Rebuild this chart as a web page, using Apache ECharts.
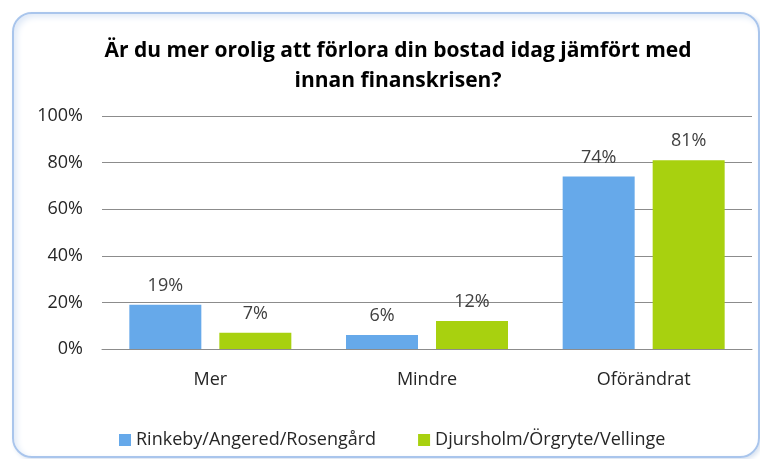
<!DOCTYPE html>
<html>
  <head>
    <meta charset="utf-8">
    <title>Bostad</title>
    <script src="https://cdn.jsdelivr.net/npm/echarts@6/dist/echarts.min.js"></script>
    <style>
      body { margin: 0; background: #fff; }
      #frame {
        position: absolute; left: 12px; top: 12px; width: 744px; height: 442px;
        border: 2px solid #a9c5ec; border-radius: 20px;
        box-shadow: inset 3px 3px 6px #dfe9f7, 2px 2px 4px #d8e2f0;
      }
      #main { position: absolute; left: 0; top: 0; width: 760px; height: 459px; }
    </style>
  </head>
  <body>
    <div id="frame"></div>
    <div id="main"></div>
    <script>
      // data
      var categories = ['Mer', 'Mindre', 'Oförändrat'];
      var rinkeby = [19, 6, 74];
      var djursholm = [7, 12, 81];
      var seriesNames = ['Rinkeby/Angered/Rosengård', 'Djursholm/Örgryte/Vellinge'];

      var font = 'Open Sans';
      var chart = echarts.init(document.getElementById('main'));
      var labelStyle = {
        show: true, position: 'top', formatter: '{c}%',
        fontFamily: font, fontSize: 18, color: '#404040', distance: 10
      };
      chart.setOption({
        animation: false,
        title: {
          text: 'Är du mer orolig att förlora din bostad idag jämfört med\ninnan finanskrisen?',
          left: 393, top: 31, textAlign: 'center',
          textStyle: { fontFamily: font, fontSize: 21, fontWeight: 'bold', color: '#000', lineHeight: 30 }
        },
        grid: { left: 102, right: 8, top: 116, bottom: 110 },
        legend: {
          top: 426, left: 114, itemWidth: 12, itemHeight: 12, itemGap: 42,
          icon: 'rect',
          textStyle: { fontFamily: font, fontSize: 18, color: '#262626' },
          data: seriesNames
        },
        xAxis: {
          type: 'category', data: categories,
          axisLine: { lineStyle: { color: '#8c8c8c' } },
          axisTick: { show: false },
          axisLabel: { fontFamily: font, fontSize: 18, color: '#262626', margin: 22 }
        },
        yAxis: {
          type: 'value', min: 0, max: 100, interval: 20,
          axisLabel: { formatter: '{value}%', fontFamily: font, fontSize: 18, color: '#262626', margin: 19 },
          splitLine: { lineStyle: { color: '#8c8c8c' } },
          axisLine: { show: false }, axisTick: { show: false }
        },
        series: [
          { name: seriesNames[0], type: 'bar', data: rinkeby, barWidth: 72, barGap: '25%',
            itemStyle: { color: '#66a9ea' }, label: labelStyle },
          { name: seriesNames[1], type: 'bar', data: djursholm, barWidth: 72,
            itemStyle: { color: '#a8d10f' }, label: labelStyle }
        ]
      });
    </script>
  </body>
</html>
